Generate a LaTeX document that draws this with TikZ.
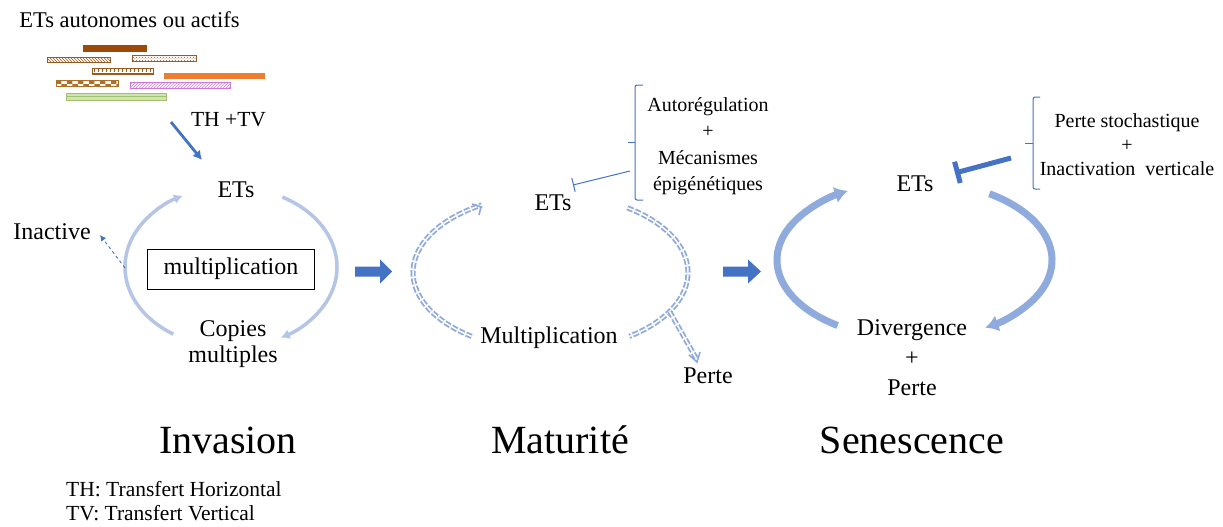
\documentclass[tikz,border=0pt]{standalone}
\usepackage{fontspec}
\setmainfont{Liberation Serif}
\usetikzlibrary{arrows.meta,patterns}
\definecolor{ablue}{HTML}{4472C4}
\definecolor{invcol}{HTML}{B4C5E6}
\definecolor{matcol}{HTML}{8EA9DB}
\definecolor{sencol}{HTML}{8FAADC}
\definecolor{brownA}{HTML}{9C4A08}
\definecolor{brownB}{HTML}{9A5A20}
\definecolor{brownC}{HTML}{B07028}
\definecolor{orangeA}{HTML}{ED7D31}
\definecolor{pinkA}{HTML}{CC77DD}
\definecolor{greenA}{HTML}{A0C070}
\definecolor{greenB}{HTML}{D0E4B0}
\begin{document}
\begin{tikzpicture}[x=1pt,y=-1pt,
  lbl/.style={font=\fontsize{24}{26}\selectfont, inner sep=0pt, align=center},
  sml/.style={font=\fontsize{20}{26.5}\selectfont, inner sep=0pt, align=center},
  ttl/.style={font=\fontsize{40}{44}\selectfont, inner sep=0pt},
  note/.style={font=\fontsize{21.5}{24}\selectfont, inner sep=0pt, anchor=west},
  invarc/.style={draw=invcol, line width=3.5pt, -{Latex[length=9pt,width=10pt]}},
  matarc/.style={draw=matcol, line width=1.8pt, double=white, double distance=1.5pt, dash pattern=on 6pt off 2pt},
  senarc/.style={draw=sencol, line width=7pt, -{Latex[length=13pt,width=17pt]}},
  bigarrow/.style={fill=ablue},
  brk/.style={draw=ablue, line width=1pt, rounded corners=2pt}
]
\useasboundingbox (0,0) rectangle (1223,527);
\fill[white] (0,0) rectangle (1223,527);

% ---------- top-left legend bars ----------
\node[font=\fontsize{22.5}{24}\selectfont, inner sep=0pt] (auto) at (129.5,20) {ETs autonomes ou actifs};
\fill[brownA] (83,45) rectangle (147,52.5);
\draw[brownB, line width=1pt, pattern=north west lines, pattern color=brownB] (47,57.5) rectangle (110,63);
\draw[brownB, line width=1pt, pattern=crosshatch dots, pattern color=brownB] (132,55.5) rectangle (196,61.5);
\draw[brownB, line width=1pt, fill=white] (92,68.5) rectangle (153,74);
\draw[brownB, line width=2.5pt, dash pattern=on 1pt off 3pt] (94,70.5) -- (152,70.5);
\fill[orangeA] (164,73) rectangle (265,78.5);
\draw[brownC, line width=1pt, pattern=checkerboard, pattern color=brownC] (56,80.5) rectangle (118,86);
\draw[pinkA, line width=1pt, pattern=north east lines, pattern color=pinkA] (130,82) rectangle (230,88);
\draw[greenA, line width=1pt, fill=greenB] (66,93) rectangle (166,100);
\draw[greenA, line width=0.7pt] (66,96.5) -- (166,96.5);

% ---------- Invasion ----------
\node[font=\fontsize{21.5}{24}\selectfont, inner sep=0pt] (thtv) at (228.5,120) {TH +TV};
\coordinate (thA) at (171,122);
\coordinate (thB) at (202,160);
\draw[ablue, line width=2.8pt, -{Latex[length=9pt,width=10pt]}] (thA) -- (thB);
\node[lbl] (ets1) at (236,190) {ETs};
\node[lbl] (inactive) at (52,232) {Inactive};
\node[draw=black, line width=0.9pt, minimum width=167pt, minimum height=40pt, font=\fontsize{24}{25}\selectfont, inner sep=0pt] (mult) at (231,269) {multiplication};
\node[lbl] (copies) at (233,344.5) {Copies\\multiples};
\draw[invarc] (231,267) ++(123:106 and 80) arc[start angle=123, end angle=243, x radius=106, y radius=80];
\draw[invarc] (231,267) ++(-61:106 and 80) arc[start angle=-61, end angle=62, x radius=106, y radius=80];
\coordinate (inA) at (125,268);
\coordinate (inB) at (100,235);
\draw[ablue, line width=0.9pt, dashed, -{Latex[length=6pt,width=6pt]}] (inA) -- (inB);
\node[ttl] (invasion) at (228,440) {Invasion};
\node[note] (th) at (66,489) {TH: Transfert Horizontal};
\node[note] (tv) at (66,513) {TV: Transfert Vertical};

% ---------- block arrows ----------
\fill[bigarrow] (355,266.5) -- (380,266.5) -- (380,259.5) -- (392,271.5) -- (380,283.5) -- (380,276.5) -- (355,276.5) -- cycle;
\fill[bigarrow] (723,266.5) -- (748,266.5) -- (748,259.5) -- (761,271.5) -- (748,283.5) -- (748,276.5) -- (723,276.5) -- cycle;

% ---------- Maturite ----------
\node[lbl] (ets2) at (553,203) {ETs};
\node[lbl] (multi2) at (549,338) {Multiplication};
\node[lbl] (perte2) at (708,376) {Perte};
\draw[matarc] (550.5,272.5) ++(125:137.5 and 78) arc[start angle=125, end angle=240, x radius=137.5, y radius=78];
\draw[matarc] (550.5,272.5) ++(-56:137.5 and 78) arc[start angle=-56, end angle=55, x radius=137.5, y radius=78];
\draw[matarc] (550.5,272.5) ++(30:137.5 and 78) coordinate (mj) -- (696,358) coordinate (mp);
% small open heads
\draw[matcol, line width=1.6pt] (472,204) -- (481,207) -- (479,215);
\draw[matcol, line width=1.6pt] (689,355) -- (697,362) -- (700,352);
\draw[brk] (643,85) -- (635,85) -- (635,200) -- (643,200);
\draw[ablue, line width=1pt] (635,142.5) -- (628,142.5);
\node[sml] (autoreg) at (708,146) {Autorégulation\\+\\Mécanismes\\épigénétiques};
\coordinate (mi) at (630,171);
\draw[ablue, line width=1pt, -{Bar[width=14pt]}] (mi) -- (573,185);
\node[ttl] (maturite) at (560,440) {Maturité};

% ---------- Senescence ----------
\node[lbl] (ets3) at (915,184) {ETs};
\node[font=\fontsize{24}{30}\selectfont, inner sep=0pt, align=center] (div) at (912,358) {Divergence\\+\\Perte};
\draw[senarc] (914.5,260) ++(124:137.5 and 79) arc[start angle=124, end angle=241, x radius=137.5, y radius=79];
\draw[senarc] (914.5,260) ++(-57:137.5 and 79) arc[start angle=-57, end angle=59, x radius=137.5, y radius=79];
\draw[brk] (1040,97) -- (1033,97) -- (1033,189) -- (1040,189);
\draw[ablue, line width=1pt] (1033,143) -- (1025,143);
\node[font=\fontsize{20}{24}\selectfont, inner sep=0pt, align=center] (stoch) at (1127,145) {Perte stochastique\\+\\Inactivation\ \ verticale};
\coordinate (si) at (1011,158);
\draw[ablue, line width=5pt, -{Bar[width=22pt, line width=5pt]}] (si) -- (955,173);
\node[ttl] (senescence) at (912,440) {Senescence};
\end{tikzpicture}
\end{document}
